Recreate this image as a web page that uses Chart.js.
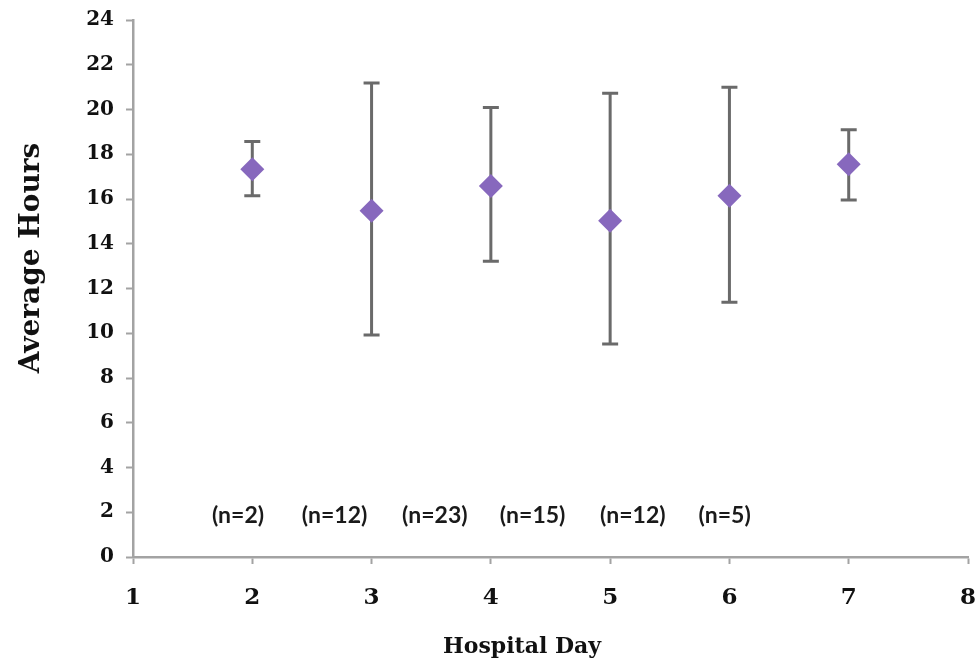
<!DOCTYPE html>
<html>
<head>
<meta charset="utf-8">
<script src="https://cdn.jsdelivr.net/npm/chart.js@4"></script>
<style>
  html, body { margin: 0; padding: 0; background: #ffffff; }
  #wrap { width: 976px; height: 665px; position: relative; }
</style>
</head>
<body>
<div id="wrap"><canvas id="c" width="976" height="665"></canvas></div>
<script>
// ---- data ----
const days      = [2, 3, 4, 5, 6, 7];
const meanHours = [17.33, 15.48, 16.58, 15.03, 16.15, 17.55];
const errLow    = [16.15, 9.92, 13.22, 9.52, 11.39, 15.96];
const errHigh   = [18.57, 21.18, 20.09, 20.73, 21.00, 19.09];
const nLabels   = ['(n=2)', '(n=12)', '(n=23)', '(n=15)', '(n=12)', '(n=5)'];
const nLabelX   = [1.88, 2.69, 3.53, 4.35, 5.19, 5.96];
const nLabelY   = 1.85;
const xTitle = 'Hospital Day';
const yTitle = 'Average Hours';

const axisColor = '#a3a3a3';
const serif = '"DejaVu Serif", "Liberation Serif", serif';

const errorBars = {
  id: 'errorBars',
  beforeDatasetsDraw(chart) {
    const {ctx, scales: {x, y}} = chart;
    ctx.save();
    ctx.strokeStyle = '#6a6a6a';
    ctx.lineWidth = 3;
    ctx.lineCap = 'butt';
    const cap = 8;
    days.forEach((d, i) => {
      const px = x.getPixelForValue(d);
      const yl = y.getPixelForValue(errLow[i]);
      const yh = y.getPixelForValue(errHigh[i]);
      ctx.beginPath();
      ctx.moveTo(px, yl); ctx.lineTo(px, yh);
      ctx.moveTo(px - cap, yl); ctx.lineTo(px + cap, yl);
      ctx.moveTo(px - cap, yh); ctx.lineTo(px + cap, yh);
      ctx.stroke();
    });
    ctx.restore();
  }
};

const annotations = {
  id: 'annotations',
  afterDraw(chart) {
    const {ctx, scales: {x, y}} = chart;
    ctx.save();
    ctx.fillStyle = '#1a1a1a';
    ctx.font = 'bold 23px Lato, "Open Sans", sans-serif';
    ctx.textAlign = 'center';
    ctx.textBaseline = 'middle';
    nLabels.forEach((t, i) => {
      ctx.fillText(t, x.getPixelForValue(nLabelX[i]), y.getPixelForValue(nLabelY));
    });
    // axis titles
    ctx.fillStyle = '#111';
    ctx.font = 'bold 22px ' + serif;
    ctx.fillText(xTitle, 522, 647);
    ctx.translate(32, 258);
    ctx.rotate(-Math.PI / 2);
    ctx.font = 'bold 28px ' + serif;
    ctx.fillText(yTitle, 0, 0);
    ctx.restore();
  }
};

new Chart(document.getElementById('c'), {
  type: 'scatter',
  data: {
    datasets: [{
      data: days.map((d, i) => ({x: d, y: meanHours[i]})),
      pointStyle: 'rectRot',
      pointRadius: 12,
      pointHoverRadius: 12,
      backgroundColor: '#8768bd',
      borderColor: '#8768bd',
      borderWidth: 0
    }]
  },
  options: {
    responsive: false,
    animation: false,
    devicePixelRatio: 1,
    layout: { autoPadding: false, padding: { top: 20, right: 8, left: 0, bottom: 0 } },
    plugins: { legend: { display: false }, tooltip: { enabled: false } },
    scales: {
      x: {
        type: 'linear',
        min: 1, max: 8,
        afterFit(s) { s.height = 108; s.paddingLeft = 0; s.paddingRight = 0; },
        ticks: {
          stepSize: 1,
          color: '#111',
          font: { family: serif, size: 23, weight: 'bold' },
          padding: 20
        },
        grid: { drawOnChartArea: false, drawTicks: true, tickLength: 7, color: axisColor, tickWidth: 2 },
        border: { color: axisColor, width: 2.5 }
      },
      y: {
        type: 'linear',
        min: 0, max: 24,
        afterFit(s) { s.width = 133; s.paddingTop = 0; s.paddingBottom = 0; },
        ticks: {
          stepSize: 1,
          color: '#111',
          font: { family: serif, size: 20, weight: 'bold' },
          padding: 12,
          callback: v => (v % 2 === 0 ? v : '')
        },
        grid: { drawOnChartArea: false, drawTicks: true, tickLength: 7, color: axisColor, tickWidth: 2 },
        border: { color: axisColor, width: 2.5 }
      }
    }
  },
  plugins: [errorBars, annotations]
});
</script>
</body>
</html>
